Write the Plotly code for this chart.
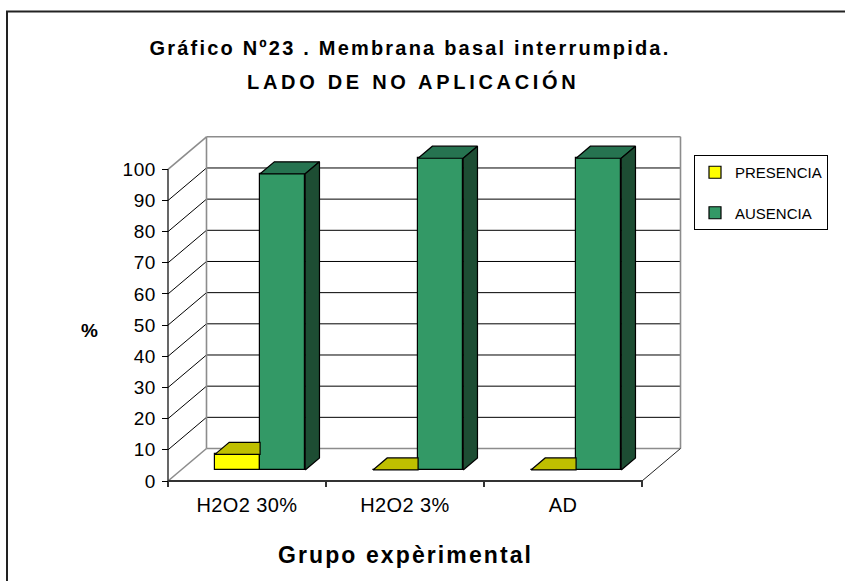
import plotly.graph_objects as go

# ---------------- data ----------------
categories = ["H2O2 30%", "H2O2 3%", "AD"]
series_names = ["PRESENCIA", "AUSENCIA"]
presencia = [5, 0, 0]
ausencia = [95, 100, 100]
y_ticks = [0, 10, 20, 30, 40, 50, 60, 70, 80, 90, 100]

title_line1 = "Gráfico Nº23 . Membrana basal interrumpida."
title_line2 = "LADO DE NO APLICACIÓN"
x_title = "Grupo expèrimental"
y_title = "%"

# ---------------- styling / geometry ----------------
W, H = 845, 581
FRONT_LEFT_PX, FRONT_RIGHT_PX = 168, 642
ZERO_PX, HUNDRED_PX = 481, 169.3
DEPTH_DX_PX, DEPTH_DY_PX = 38.5, 32.5
PLOT_L, PLOT_R, PLOT_T, PLOT_B = 162, 685, 133, 487

FONT = "Liberation Sans, Arial, Helvetica, sans-serif"
FRONT_COLORS = ["#FFFF00", "#339966"]
TOP_COLORS = ["#BFBF00", "#267350"]
SIDE_COLORS = ["#808000", "#1D4D33"]
GRID_COLOR = "#000000"
WALL_COLOR = "#8C8C8C"

BAR_W = 1 / 3.5          # gap width 150 %
F0, F1 = 0.34, 0.71      # bar depth (fraction of wall depth)

n = len(categories)
values = [presencia, ausencia]
n_s = len(values)

px_per_cat = (FRONT_RIGHT_PX - FRONT_LEFT_PX) / n
px_per_pct = (ZERO_PX - HUNDRED_PX) / 100.0
x_lo = -0.5 - (FRONT_LEFT_PX - PLOT_L) / px_per_cat
x_hi = x_lo + (PLOT_R - PLOT_L) / px_per_cat
y_lo = -(PLOT_B - ZERO_PX) / px_per_pct
y_hi = y_lo + (PLOT_B - PLOT_T) / px_per_pct
DX = DEPTH_DX_PX / px_per_cat
DY = DEPTH_DY_PX / px_per_pct
ymax = y_ticks[-1]
xa, xb = -0.5, n - 0.5


def paper_x(px):
    return (px - PLOT_L) / (PLOT_R - PLOT_L)


def paper_y(py):
    return (PLOT_B - py) / (PLOT_B - PLOT_T)


def ls(text, px):
    return f'<span style="letter-spacing:{px}px">{text}</span>'


fig = go.Figure()

# ---------- front faces (bars) ----------
for s in range(n_s):
    xs = [i + (s - (n_s - 1) / 2) * BAR_W + F0 * DX for i in range(n)]
    fig.add_bar(
        x=xs, y=values[s], base=[F0 * DY] * n, width=BAR_W,
        marker=dict(color=FRONT_COLORS[s], line=dict(color="black", width=1.2)),
        name=series_names[s], legendgroup=series_names[s],
        hoverinfo="skip",
    )

# ---------- top and side faces ----------
ddx, ddy = (F1 - F0) * DX, (F1 - F0) * DY
for s in range(n_s):
    tx, ty, sx, sy = [], [], [], []
    for i in range(n):
        v = values[s][i]
        xl = i + (s - (n_s - 1) / 2) * BAR_W + F0 * DX - BAR_W / 2
        xr = xl + BAR_W
        b = F0 * DY
        top = b + v
        occluded = s + 1 < n_s and values[s + 1][i] >= v + ddy
        if occluded:
            px = [xl, xr, xr, xl + ddx, xl]
        else:
            px = [xl, xr, xr + ddx, xl + ddx, xl]
        py = [top, top, top + ddy, top + ddy, top]
        tx += px + [None]
        ty += py + [None]
        if not occluded and v > 0:
            sx += [xr, xr, xr + ddx, xr + ddx, xr, None]
            sy += [b, top, top + ddy, b + ddy, b, None]
    fig.add_scatter(x=tx, y=ty, mode="lines", fill="toself", fillcolor=TOP_COLORS[s],
                    line=dict(color="black", width=1.2), showlegend=False, hoverinfo="skip")
    if sx:
        fig.add_scatter(x=sx, y=sy, mode="lines", fill="toself", fillcolor=SIDE_COLORS[s],
                        line=dict(color="black", width=1.2), showlegend=False, hoverinfo="skip")

# ---------- walls, gridlines, axes lines (shapes below traces) ----------
shapes = []


def seg(x0, y0, x1, y1, color, width):
    shapes.append(dict(type="line", xref="x", yref="y", layer="below",
                       x0=x0, y0=y0, x1=x1, y1=y1,
                       line=dict(color=color, width=width)))


for v in y_ticks[1:-1]:
    seg(xa + DX, v + DY, xb + DX, v + DY, GRID_COLOR, 1)
    seg(xa, v, xa + DX, v + DY, GRID_COLOR, 1)
# wall outlines
seg(xa + DX, ymax + DY, xb + DX, ymax + DY, WALL_COLOR, 1.6)
seg(xa + DX, DY, xb + DX, DY, WALL_COLOR, 1.6)
seg(xa + DX, DY, xa + DX, ymax + DY, WALL_COLOR, 1.6)
seg(xb + DX, DY, xb + DX, ymax + DY, WALL_COLOR, 1.6)
seg(xa, ymax, xa + DX, ymax + DY, WALL_COLOR, 1.6)
seg(xa, 0, xa + DX, DY, WALL_COLOR, 1.6)
seg(xb, 0, xb + DX, DY, "#222222", 1)
# front axes
seg(xa, 0, xa, ymax, "black", 1.2)
seg(xa, 0, xb, 0, "#333333", 2)

# outer frame
shapes.append(dict(type="rect", xref="paper", yref="paper",
                   x0=paper_x(7), y0=paper_y(H + 10), x1=paper_x(W + 10), y1=paper_y(11.5),
                   line=dict(color="#222222", width=2), fillcolor="rgba(0,0,0,0)", layer="below"))

annotations = [
    dict(text=ls("<b>" + title_line2 + "</b>", 3.7), xref="paper", yref="paper",
         x=paper_x(413), y=paper_y(82), xanchor="center", yanchor="middle",
         showarrow=False, font=dict(family=FONT, size=20, color="black")),
    dict(text=ls("<b>" + x_title + "</b>", 2.1), xref="x", yref="paper",
         x=1, y=paper_y(555), xanchor="center", yanchor="middle",
         showarrow=False, font=dict(family=FONT, size=23, color="black")),
    dict(text="<b>" + y_title + "</b>", xref="paper", yref="paper",
         x=paper_x(89), y=paper_y(330), xanchor="center", yanchor="middle",
         showarrow=False, font=dict(family=FONT, size=19, color="black")),
]

fig.update_layout(
    width=W, height=H,
    margin=dict(l=PLOT_L, r=W - PLOT_R, t=PLOT_T, b=H - PLOT_B, pad=0, autoexpand=False),
    paper_bgcolor="white", plot_bgcolor="white",
    font=dict(family=FONT, color="black"),
    title=dict(text=ls("<b>" + title_line1 + "</b>", 2.2), x=410 / W, xref="container",
               xanchor="center", y=1 - 48 / H, yref="container", yanchor="middle",
               font=dict(family=FONT, size=20, color="black")),
    xaxis=dict(range=[x_lo, x_hi], tickmode="array", tickvals=list(range(n)),
               ticktext=[ls(c, 0.4) for c in categories], ticks="",
               showgrid=False, zeroline=False, showline=False, fixedrange=True,
               tickfont=dict(family=FONT, size=20, color="black"),
               ticklabelstandoff=4,
               minor=dict(tickmode="array", tickvals=[k - 0.5 for k in range(n + 1)],
                          ticks="inside", ticklen=6, tickcolor="#333333", tickwidth=1.5,
                          showgrid=False)),
    yaxis=dict(range=[y_lo, y_hi], tickmode="array", tickvals=y_ticks,
               ticktext=[ls(str(t), 0.6) for t in y_ticks],
               ticks="inside", ticklen=6, tickcolor="black", tickwidth=1,
               showgrid=False, zeroline=False, showline=False, fixedrange=True,
               tickfont=dict(family=FONT, size=19, color="black"),
               ticklabelstandoff=5),
    showlegend=True,
    legend=dict(x=paper_x(694), y=paper_y(155), xanchor="left", yanchor="top",
                bgcolor="white", bordercolor="black", borderwidth=1,
                font=dict(family=FONT, size=15, color="black"),
                traceorder="grouped", tracegroupgap=18),
    bargap=0, barmode="overlay",
    shapes=shapes, annotations=annotations,
)

fig.write_html("out.html", config={"displayModeBar": False},
               post_script="document.body.style.margin='0';")
